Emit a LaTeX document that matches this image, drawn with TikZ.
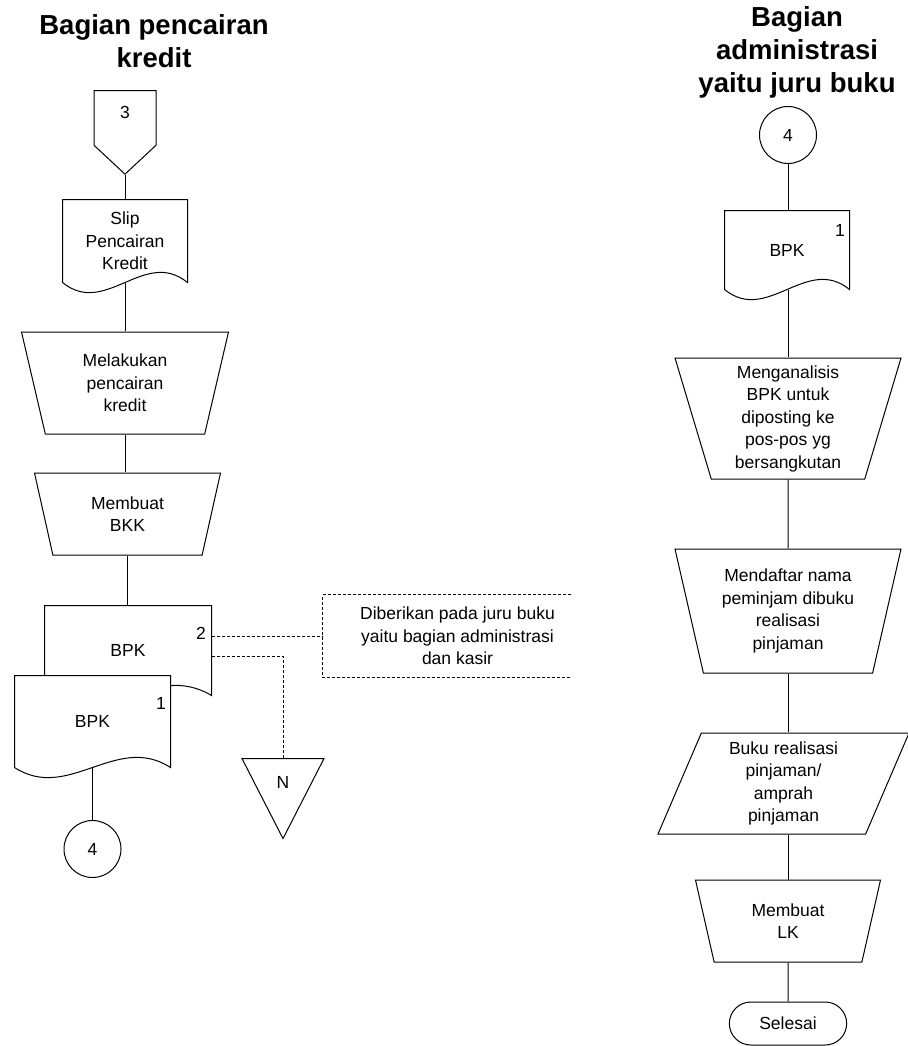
\documentclass[tikz,border=0pt]{standalone}
\usepackage{fontspec}
\setmainfont{Liberation Sans}
\usetikzlibrary{shapes.geometric,shapes.symbols,shapes.misc,positioning}

% garis tepi dokumen: nama node, lebar lengkung
\newcommand{\dokgaris}[2]{\draw (#1.south west) -- (#1.north west) -- (#1.north east) -- (#1.south east) .. controls +(-#2,-35) and +(#2,35) .. (#1.south west);}

\tikzset{
  teks/.style={font=\fontsize{17.5}{22.5}\selectfont, align=center},
  judul/.style={font=\bfseries\fontsize{27.5}{33}\selectfont, align=center},
  proses/.style={teks, draw, trapezium, shape border rotate=180, trapezium stretches body, inner sep=1pt},
  masukan/.style={teks, draw, trapezium, trapezium left angle=63.2, trapezium right angle=116.8, trapezium stretches body, inner sep=1pt},
  dokumen/.style={teks, fill=white, rectangle, inner sep=1pt},
  offpage/.style={teks, draw, signal, signal to=south, signal from=nowhere, signal pointer angle=94, minimum width=62pt, minimum height=60pt, inner sep=1pt, text depth=12pt},
  sambung/.style={teks, draw, circle, minimum size=57pt, inner sep=0pt},
  segitiga/.style={teks, draw, isosceles triangle, shape border rotate=270, isosceles triangle stretches, minimum width=82pt, minimum height=80pt, inner sep=0pt},
  akhir/.style={teks, draw, rounded rectangle, minimum width=124pt, minimum height=43pt},
  catatan/.style={minimum width=247pt, minimum height=82pt, inner sep=0pt},
  putus/.style={line width=0.9pt, dash pattern=on 3pt off 2pt}
}

\begin{document}
\begin{tikzpicture}[x=1pt,y=-1pt,line width=1pt]
\useasboundingbox (0,0) rectangle (907,1046);
% judul kolom
\node[judul] (judulkiri) at (154,41) {Bagian pencairan\\kredit};
\node[judul] (judulkanan) at (797,52) {Bagian\\administrasi\\yaitu juru buku};

% bagian pencairan kredit
\node[offpage] (tiga) at (125,118) {3};
\node[dokumen, minimum width=124pt, minimum height=82pt] (slip) at (125,241) {Slip\\Pencairan\\Kredit};
\dokgaris{slip}{43}
\node[proses, minimum width=207pt, minimum height=102pt, trapezium angle=68.3] (lakukan) at (125,383) {Melakukan\\pencairan\\kredit};
\node[proses, minimum width=186pt, minimum height=82pt, trapezium angle=63.7] (bkk) at (127.5,514) {Membuat\\BKK};
\node[dokumen, minimum width=166pt, minimum height=89pt] (bpkdua) at (128,650.5) {BPK};
\dokgaris{bpkdua}{58}
\node[dokumen, minimum width=155pt, minimum height=91pt] (bpksatu) at (92.5,721.5) {BPK};
\dokgaris{bpksatu}{54}
\node[teks] (nodua) at (201,633) {2};
\node[teks] (nosatu) at (161,703) {1};
\node[sambung] (empat) at (92.5,849) {4};
\node[segitiga] (arsip) at (283,782) {N};
\node[catatan, label={[teks, xshift=11pt]center:{Diberikan pada juru buku\\yaitu bagian administrasi\\dan kasir}}] (ket) at (446.5,636) {};

\draw (tiga.south) -- (slip.north);
\draw (slip.south) -- (slip.south |- lakukan.north);
\draw (lakukan.south) -- (lakukan.south |- bkk.north);
\draw (bkk.south) -- (bkk.south |- bpkdua.north);
\draw (bpksatu.south) -- (empat.north);
\draw[putus] (bpkdua.east |- ket.west) -- (ket.west);
\draw[putus] ([yshift=-6pt]bpkdua.east) -| (arsip.north);
\draw[putus] (ket.north east) -- (ket.north west) -- (ket.south west) -- (ket.south east);

% bagian administrasi
\node[sambung] (empatb) at (788,135) {4};
\node[dokumen, minimum width=124pt, minimum height=78pt] (bpkadm) at (787,250) {BPK};
\dokgaris{bpkadm}{43}
\node[teks] (noadm) at (840,230) {1};
\node[proses, minimum width=226pt, minimum height=121pt, trapezium angle=71.5] (analisis) at (788,418.5) {Menganalisis\\BPK untuk\\diposting ke\\pos-pos yg\\bersangkutan};
\node[proses, minimum width=226pt, minimum height=124pt, trapezium angle=71.7] (daftar) at (788,611) {Mendaftar nama\\peminjam dibuku\\realisasi\\pinjaman};
\node[masukan, minimum width=251pt, minimum height=101pt] (buku) at (783.5,783.5) {Buku realisasi\\pinjaman/\\amprah\\pinjaman};
\node[proses, minimum width=185pt, minimum height=82pt, trapezium angle=63.4] (lk) at (788,921) {Membuat\\LK};
\node[akhir] (selesai) at (788,1023.5) {Selesai};

\draw (empatb.south) -- (empatb.south |- bpkadm.north);
\draw (bpkadm.south -| analisis.north) -- (analisis.north);
\draw (analisis.south) -- (daftar.north);
\draw (daftar.south) -- (daftar.south |- buku.north);
\draw (lk.north |- buku.south) -- (lk.north);
\draw (lk.south) -- (selesai.north);
\end{tikzpicture}
\end{document}
